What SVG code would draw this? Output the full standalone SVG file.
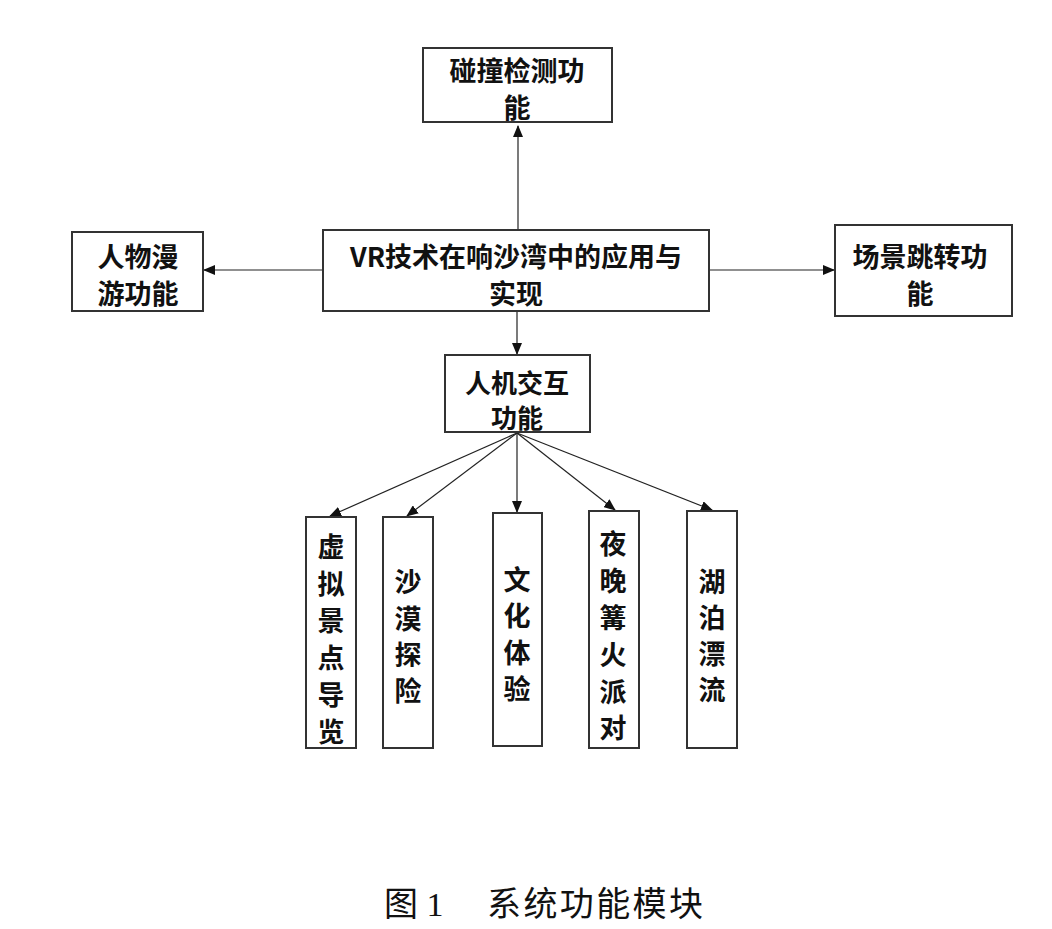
<svg xmlns="http://www.w3.org/2000/svg" width="1052" height="929" viewBox="0 0 1052 929">
<style>
.box{fill:#fff;stroke:#333;stroke-width:2}
.t{font-family:"Noto Sans CJK SC","Liberation Sans",sans-serif;font-weight:bold;font-size:27px;fill:#111;text-anchor:middle;dominant-baseline:central}
.h{font-family:"Noto Sans CJK SC","Liberation Sans",sans-serif;font-weight:bold;font-size:26px;fill:#111;text-anchor:middle;dominant-baseline:central}
.v{font-family:"Noto Sans CJK SC","Liberation Sans",sans-serif;font-weight:bold;font-size:27px;fill:#111;text-anchor:middle;dominant-baseline:central}
.c{stroke:#222;stroke-width:1.2;fill:none;marker-end:url(#ah)}
.cap{font-family:"Liberation Serif","Noto Sans CJK SC",serif;font-size:34px;fill:#111;dominant-baseline:central}
</style>
<defs>
<marker id="ah" markerWidth="12" markerHeight="10" refX="11" refY="5" orient="auto" markerUnits="userSpaceOnUse">
<path d="M0,0 L12,5 L0,10 Z" fill="#111"/>
</marker>
</defs>
<rect width="1052" height="929" fill="#fff"/>
<g id="connectors">
<line class="c" x1="518" y1="230" x2="518" y2="126"/>
<line class="c" x1="323" y1="270" x2="204" y2="270"/>
<line class="c" x1="709" y1="270" x2="834" y2="270"/>
<line class="c" x1="517" y1="311" x2="517" y2="354"/>
<line class="c" x1="517" y1="433" x2="330" y2="516"/>
<line class="c" x1="517" y1="433" x2="407" y2="516"/>
<line class="c" x1="517" y1="433" x2="517" y2="512"/>
<line class="c" x1="517" y1="433" x2="615" y2="510"/>
<line class="c" x1="517" y1="433" x2="712" y2="510"/>
</g>
<g id="n_collision">
<rect class="box" x="423" y="48" width="189" height="74"/>
<text class="t" x="517" y="69">碰撞检测功</text>
<text class="t" x="517" y="106">能</text>
</g>
<g id="n_roam">
<rect class="box" x="72" y="232" width="131" height="79"/>
<text class="t" x="138" y="255">人物漫</text>
<text class="t" x="138" y="292">游功能</text>
</g>
<g id="n_main">
<rect class="box" x="323" y="230" width="386" height="81"/>
<text class="t" x="516" y="255">VR技术在响沙湾中的应用与</text>
<text class="t" x="516" y="292">实现</text>
</g>
<g id="n_scene">
<rect class="box" x="835" y="225" width="177" height="91"/>
<text class="t" x="920" y="255">场景跳转功</text>
<text class="t" x="920" y="292">能</text>
</g>
<g id="n_hci">
<rect class="box" x="445" y="355" width="145" height="77"/>
<text class="h" x="517" y="381">人机交互</text>
<text class="h" x="517" y="416">功能</text>
</g>
<g id="n_tour">
<rect class="box" x="306" y="517" width="50" height="231"/>
<text class="v" x="331" y="545">虚</text>
<text class="v" x="331" y="582">拟</text>
<text class="v" x="331" y="619">景</text>
<text class="v" x="331" y="656">点</text>
<text class="v" x="331" y="693">导</text>
<text class="v" x="331" y="730">览</text>
</g>
<g id="n_desert">
<rect class="box" x="383" y="517" width="50" height="231"/>
<text class="v" x="408" y="580">沙</text>
<text class="v" x="408" y="617">漠</text>
<text class="v" x="408" y="653">探</text>
<text class="v" x="408" y="689">险</text>
</g>
<g id="n_culture">
<rect class="box" x="493" y="513" width="49" height="233"/>
<text class="v" x="517" y="578">文</text>
<text class="v" x="517" y="614">化</text>
<text class="v" x="517" y="651">体</text>
<text class="v" x="517" y="687">验</text>
</g>
<g id="n_bonfire">
<rect class="box" x="589" y="511" width="50" height="237"/>
<text class="v" x="613" y="542">夜</text>
<text class="v" x="613" y="579">晚</text>
<text class="v" x="613" y="616">篝</text>
<text class="v" x="613" y="653">火</text>
<text class="v" x="613" y="690">派</text>
<text class="v" x="613" y="726">对</text>
</g>
<g id="n_rafting">
<rect class="box" x="687" y="511" width="50" height="237"/>
<text class="v" x="712" y="580">湖</text>
<text class="v" x="712" y="616">泊</text>
<text class="v" x="712" y="652">漂</text>
<text class="v" x="712" y="688">流</text>
</g>
<g id="caption">
<text class="cap" x="384" y="904">图 1</text>
<text class="cap" x="487" y="904" textLength="216">系统功能模块</text>
</g>
</svg>
